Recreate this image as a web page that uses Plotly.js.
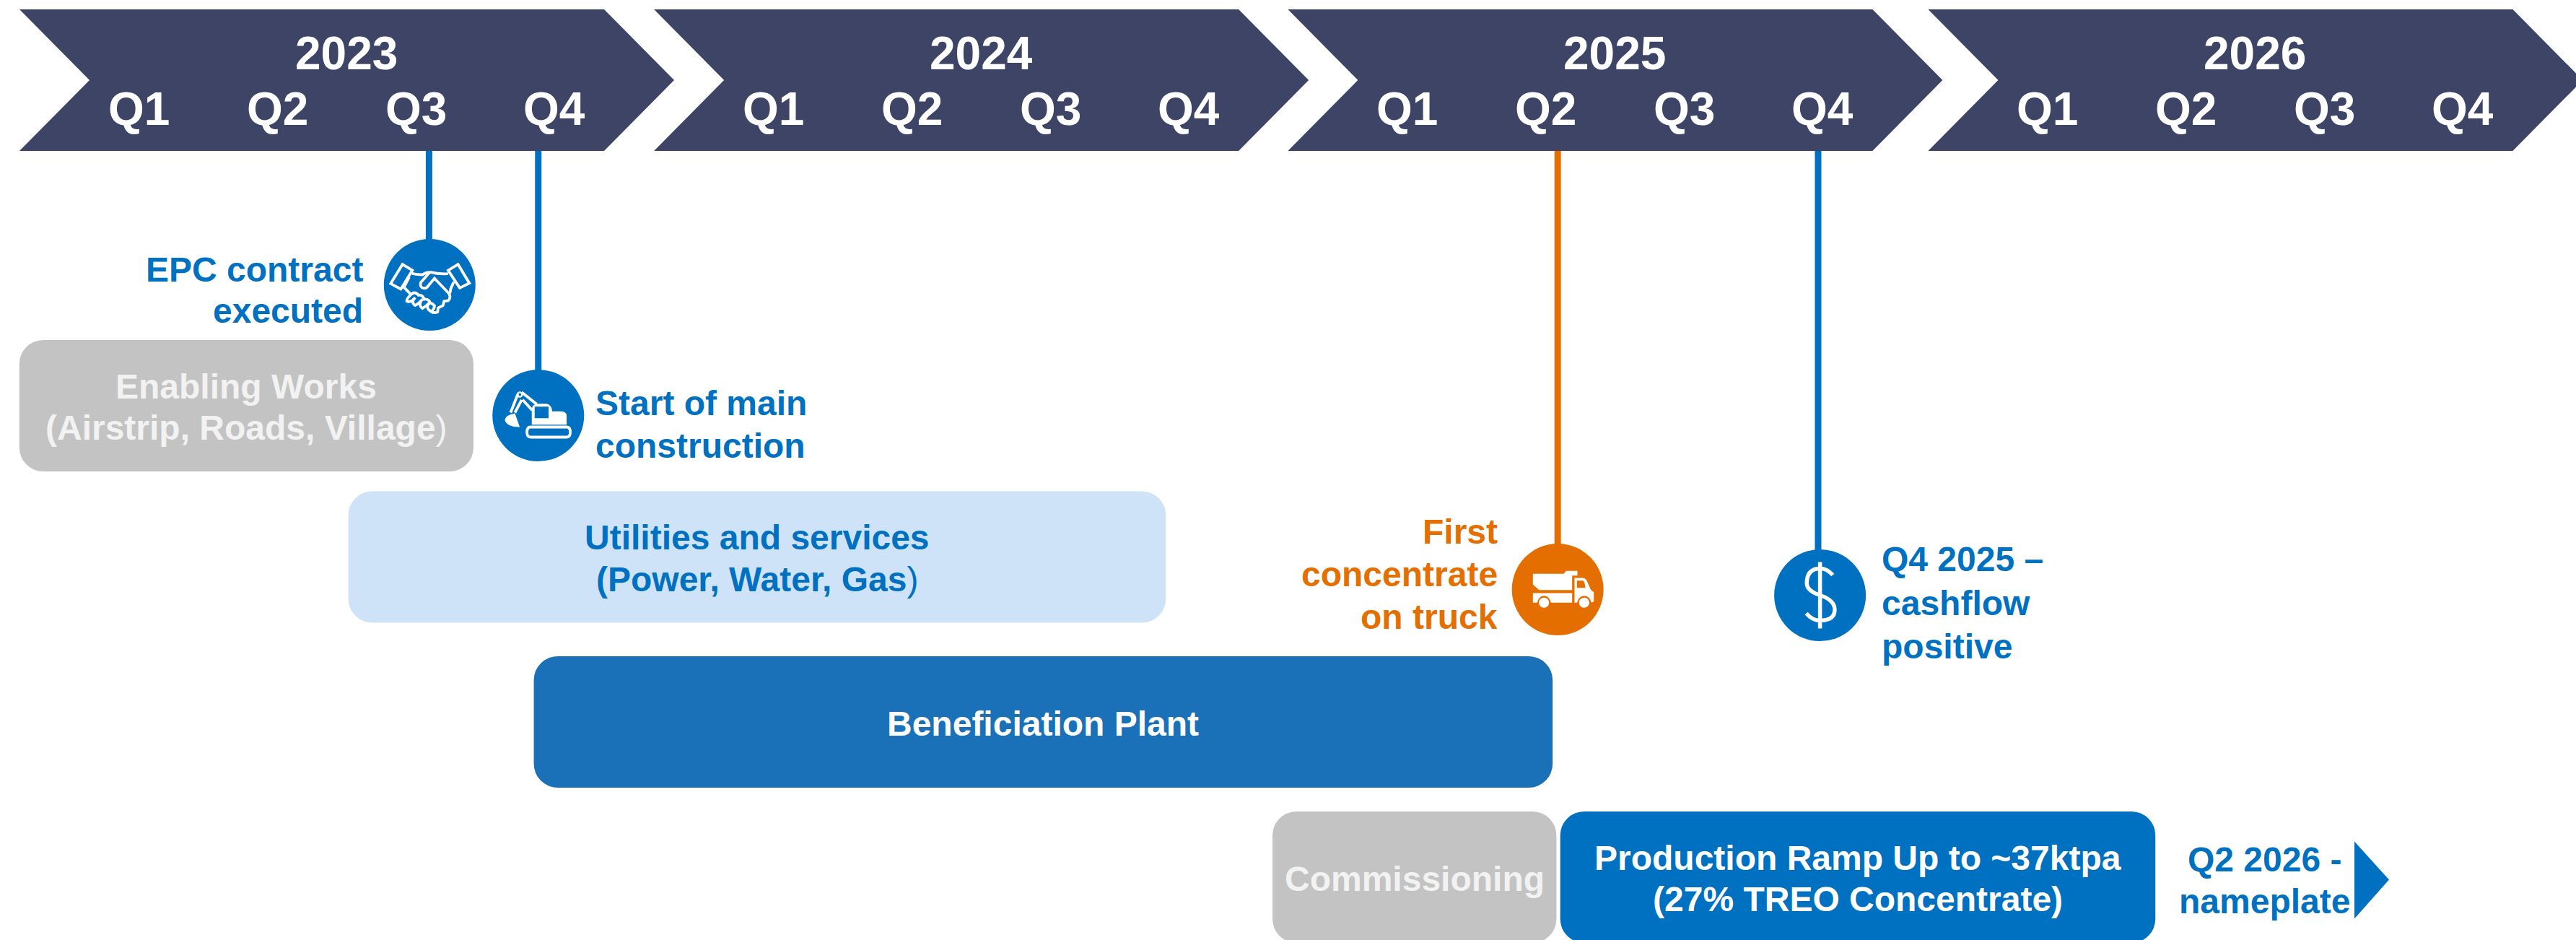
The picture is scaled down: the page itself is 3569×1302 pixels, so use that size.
<!DOCTYPE html>
<html>
<head>
<meta charset="utf-8">
<script src="https://cdn.plot.ly/plotly-3.0.1.min.js"></script>
<style>html,body{margin:0;padding:0;background:#fff;overflow:hidden}#chart{width:3569px;height:1302px}</style>
</head>
<body>
<div id="chart"></div>
<script>
// ---------- data (time in fractional years) ----------
const years = ['2023', '2024', '2025', '2026'];
const yearMid = [2023.5, 2024.499, 2025.497, 2026.505];
const quarters = ['Q1', 'Q2', 'Q3', 'Q4'];

const taskLines = [
  ['Enabling Works', '<b>(Airstrip, Roads, Village</b>)'],
  ['Utilities and services', '<b>(Power, Water, Gas</b>)'],
  ['Beneficiation Plant'],
  ['Commissioning'],
  ['Production Ramp Up to ~37ktpa', '(27% TREO Concentrate)']
];
const taskStart = [2022.985, 2023.503, 2023.795, 2024.958, 2025.411];
const taskEnd   = [2023.700, 2024.790, 2025.399, 2025.405, 2026.348];
const taskRow   = [0, 1, 2, 3, 3];

const milestoneLines = [
  ['EPC contract', 'executed'],
  ['Start of main', 'construction'],
  ['First', 'concentrate', 'on truck'],
  ['Q4 2025 \u2013', 'cashflow', 'positive']
];
const milestoneAt = [2023.631, 2023.802, 2025.407, 2025.820];
const stemAt      = [2023.630, 2023.802, 2025.407, 2025.817];

const nameplateLines = ['Q2 2026 -', 'nameplate'];

// ---------- layout constants ----------
const PX_PER_YEAR = 880, X0 = 40;
const xOf = px => 2023 + (px - X0) / PX_PER_YEAR;
const NAVY = '#3D4465', BLUE = '#0070C0', ORANGE = '#E46F00', GREY = '#C3C3C3';
const FONT = 'Liberation Sans, Arial, sans-serif';
const rowY = [562, 771.5, 1000, 1215];
const taskFill = [GREY, '#CEE3F7', '#1A71B8', GREY, BLUE];
const taskInk = ['#F2F2F2', BLUE, '#FFFFFF', '#F2F2F2', '#FFFFFF'];
const LINE_GAP = 57.5;
const milestoneY = [394.5, 575.5, 816.5, 824.5];
const milestoneInk = [BLUE, BLUE, ORANGE, BLUE];
const labelPlace = [
  {anchor: 'right', dx: -92, y: [373, 430]},
  {anchor: 'left',  dx: 79,  y: [558, 617]},
  {anchor: 'right', dx: -83, y: [736, 795, 854]},
  {anchor: 'left',  dx: 85,  y: [774, 835, 895]}
];

// icons are traced in a 3x grid and placed in pixels round the milestone
function trace(str, cx, cy, k) {
  let isX = true;
  return str.replace(/-?\d+(\.\d+)?/g, m => {
    const v = parseFloat(m);
    const out = isX ? (v - cx) / k : -(v - cy) / k;
    isX = !isX;
    return out.toFixed(2);
  });
}
function ring(cx, cy, r) {
  const c = r * 0.5523;
  return `M${cx - r},${cy} C${cx - r},${cy - c} ${cx - c},${cy - r} ${cx},${cy - r} ` +
    `C${cx + c},${cy - r} ${cx + r},${cy - c} ${cx + r},${cy} ` +
    `C${cx + r},${cy + c} ${cx + c},${cy + r} ${cx},${cy + r} ` +
    `C${cx - c},${cy + r} ${cx - r},${cy + c} ${cx - r},${cy} Z `;
}
function pxShape(path, xa, ya, opts) {
  return Object.assign({
    type: 'path', xref: 'x', yref: 'y', xsizemode: 'pixel', ysizemode: 'pixel',
    xanchor: xa, yanchor: ya, path, line: {width: 0}, layer: 'above'
  }, opts || {});
}
const whiteFill = {fillcolor: '#FFFFFF', fillrule: 'evenodd', line: {width: 0}};
const whiteLine = w => ({fillcolor: 'rgba(0,0,0,0)', line: {color: '#FFFFFF', width: w}});

const handshake =
  'M172,197 L213,222 L165,300 L123,277 Z ' +
  'M403,197 L362,222 L410,295 L450,275 Z ' +
  'M212,235 Q240,240 255,240 Q270,228 290,230 Q320,238 362,236 ' +
  'M285,230 L248,272 Q242,292 260,296 Q272,298 280,285 L305,255 L365,318 ' +
  'M385,270 L372,300 Q372,315 365,318 Q375,335 362,348 L345,350 L340,368 L320,378 L318,395 Q305,402 290,393 ' +
  'M200,250 L178,292 L205,320 ' +
  'M205,325 Q188,340 190,350 Q205,358 225,335 ' +
  'M225,335 Q205,355 225,368 Q240,360 255,342 ' +
  'M255,342 Q235,365 255,380 Q270,372 285,355 ' +
  'M285,355 Q265,380 290,392 Q305,385 305,365 ' +
  'M205,325 Q222,305 238,325 Q255,322 262,342 Q282,340 288,358 Q305,362 305,375';

const digger =
  'M710,800 L710,865 L855,865 L855,825 Q850,810 830,810 L795,810 Q792,780 770,778 L730,778 Q712,782 710,800 Z ' +
  'M722,790 L780,790 L780,838 L722,838 Z ' +
  'M640,818 Q600,825 598,845 Q605,875 660,875 Z ' + ring(660, 740, 13) + ring(660, 740, 6);
const diggerArm =
  'M705,875 L855,875 Q870,875 870,896 Q870,917 855,917 L705,917 Q690,917 690,896 Q690,875 705,875 Z ' +
  'M668,730 L730,780 M652,738 L622,815 M672,762 L712,805 M668,762 L640,815';

const truck =
  'M222,225 L350,225 L360,213 L407,213 L407,232 L385,232 L385,292 L248,292 L222,270 Z ' +
  'M222,305 L385,305 L385,345 L297,345 Q290,316 268,316 Q246,316 240,345 L222,345 Z ' +
  'M395,242 L430,242 Q445,245 450,262 L462,290 L475,302 L475,340 L465,345 Q458,316 435,316 Q413,316 406,345 L395,345 Z ' +
  'M405,253 L430,253 Q437,255 440,283 L405,283 Z ' + ring(268, 345, 21) + ring(435, 345, 21);

const dollar =
  'M1470,226 Q1445,198 1417,198 Q1362,200 1362,260 Q1362,292 1417,310 Q1478,330 1478,370 Q1478,415 1417,415 Q1385,415 1360,385 M1417,172 L1417,448';

// ---------- traces ----------
const traces = [{
  type: 'bar', orientation: 'h',
  y: taskRow.map(r => rowY[r]),
  base: taskStart,
  x: taskEnd.map((e, i) => e - taskStart[i]),
  width: 182,
  marker: {color: taskFill, cornerradius: 33, line: {width: 0}},
  hoverinfo: 'skip'
}];
stemAt.forEach((x, i) => traces.push({
  type: 'scatter', mode: 'lines', x: [x, x], y: [209, milestoneY[i]],
  line: {color: milestoneInk[i], width: 9}, hoverinfo: 'skip'
}));
traces.push({
  type: 'scatter', mode: 'markers', x: milestoneAt, y: milestoneY,
  marker: {size: 127, color: milestoneInk, line: {width: 0}}, hoverinfo: 'skip'
});

// ---------- shapes ----------
const shapes = yearMid.map(m => pxShape(
  'M-453,98 L-356,0 L-453,-98 L357,-98 L454,0 L357,98 Z', m, 111,
  {fillcolor: NAVY, layer: 'below'}));
shapes.push(pxShape(trace(handshake, 285, 282, 3), milestoneAt[0], milestoneY[0], whiteLine(3.8)));
shapes.push(pxShape(trace(digger, 737, 827, 3), milestoneAt[1], milestoneY[1], whiteFill));
shapes.push(pxShape(trace(diggerArm, 737, 827, 3), milestoneAt[1], milestoneY[1], whiteLine(3.8)));
shapes.push(pxShape(trace(truck, 325, 290, 3), milestoneAt[2], milestoneY[2], whiteFill));
shapes.push(pxShape(trace(dollar, 1417, 310, 3), milestoneAt[3], milestoneY[3], whiteLine(5.5)));
shapes.push(pxShape('M0,53 L48,0 L0,-54 Z', xOf(3262), 1218.5, {fillcolor: BLUE}));

// ---------- text ----------
const annotations = [];
const put = (text, x, y, size, color, anchor, dx) => annotations.push({
  text: text.startsWith('<b>') ? text : '<b>' + text + '</b>',
  x, y, xref: 'x', yref: 'y', showarrow: false,
  xanchor: anchor || 'center', yanchor: 'middle', xshift: dx || 0,
  align: anchor || 'center', borderpad: 0, borderwidth: 0,
  font: {family: FONT, size, color}
});
years.forEach((y, i) => {
  put(y, yearMid[i], 74, 64, '#FFFFFF');
  quarters.forEach((q, j) => put(q, yearMid[i] + (j - 1.5) * 192 / PX_PER_YEAR, 150.5, 64, '#FFFFFF'));
});
taskLines.forEach((lines, i) => {
  const mid = (taskStart[i] + taskEnd[i]) / 2;
  lines.forEach((t, k) => put(t, mid, rowY[taskRow[i]] + 2 + (k - (lines.length - 1) / 2) * LINE_GAP, 48, taskInk[i]));
});
milestoneLines.forEach((lines, i) => {
  const p = labelPlace[i];
  lines.forEach((t, k) => put(t, milestoneAt[i], p.y[k], 48, milestoneInk[i], p.anchor, p.dx));
});
nameplateLines.forEach((t, k) => put(t, xOf(3137), 1190 + k * 58, 48, BLUE));

Plotly.newPlot('chart', traces, {
  width: 3569, height: 1302, autosize: false,
  margin: {l: 0, r: 0, t: 0, b: 0, pad: 0},
  paper_bgcolor: '#FFFFFF', plot_bgcolor: '#FFFFFF',
  showlegend: false, hovermode: false, barmode: 'overlay',
  xaxis: {range: [xOf(0), xOf(3569)], visible: false, fixedrange: true},
  yaxis: {range: [1302, 0], visible: false, fixedrange: true},
  shapes, annotations
}, {displayModeBar: false, staticPlot: true});
</script>
</body>
</html>
